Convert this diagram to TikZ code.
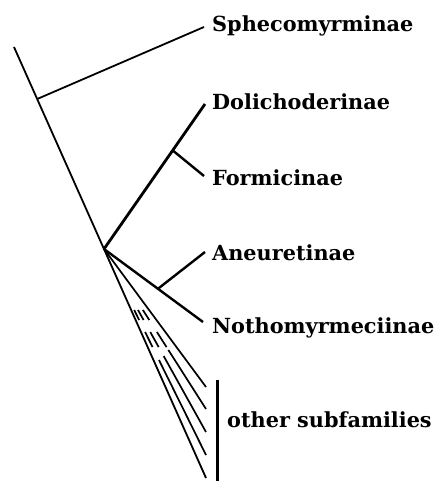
\documentclass[tikz,border=0pt]{standalone}
\usepackage{fontspec}
\setmainfont{DejaVu Serif}
\usetikzlibrary{calc}
\begin{document}
\begin{tikzpicture}[x=1pt,y=-1pt,
  trunkline/.style={line width=1.8pt},
  branchline/.style={line width=2.4pt},
  fanline/.style={line width=1.7pt},
  lbl/.style={anchor=base west,inner sep=0pt,font=\bfseries\fontsize{20.8}{20.8}\selectfont}]
\useasboundingbox (0,0) rectangle (442,481);
% points
\coordinate (T) at (14,47);
\coordinate (R) at (104,249);
\coordinate (B5) at (206,478);
\coordinate (S0) at (37.2,99);
\coordinate (S1) at (204,27);
\coordinate (D1) at (205,104);
\coordinate (F0) at ($(R)!0.68!(D1)$);
\coordinate (F1) at (204,176);
\coordinate (N1) at (203,322);
\coordinate (A0) at ($(R)!0.545!(N1)$);
\coordinate (A1) at (205,252);
\coordinate (E1) at (206,387);
\coordinate (E2) at (206,409);
\coordinate (E3) at (206,432);
\coordinate (E4) at (206,455);
\coordinate (BarT) at (217,380);
\coordinate (BarB) at (217,481);
% labels
\node[lbl] (sph) at (212,32) {Sphecomyrminae};
\node[lbl] (dol) at (212,110) {Dolichoderinae};
\node[lbl] (for) at (212,185) {Formicinae};
\node[lbl] (ane) at (212,260) {Aneuretinae};
\node[lbl] (not) at (212,333) {Nothomyrmeciinae};
\node[lbl] (oth) at (227,427) {other subfamilies};
% tree
\draw[trunkline] (T) -- (B5);
\draw[trunkline] (S0) -- (S1);
\draw[line width=2.8pt] (R) -- (D1);
\draw[branchline] (F0) -- (F1);
\draw[branchline] (R) -- (N1);
\draw[branchline] (A0) -- (A1);
\draw[fanline] (R) -- (E1);
% dashed inner fan lines
\foreach \e/\a/\b/\c/\d/\s in {E4/0.296/0.345/0.403/0.476/0.539,
                               E3/0.333/0.388/0.454/0.536/0.585,
                               E2/0.381/0.444/0.519/0.613/0.631}{
  \draw[fanline] ($(R)!\a!(\e)$) -- ($(R)!\b!(\e)$);
  \draw[fanline] ($(R)!\c!(\e)$) -- ($(R)!\d!(\e)$);
  \draw[fanline] ($(R)!\s!(\e)$) -- (\e);
}
\draw[line width=3pt] (BarT) -- (BarB);
\end{tikzpicture}
\end{document}
